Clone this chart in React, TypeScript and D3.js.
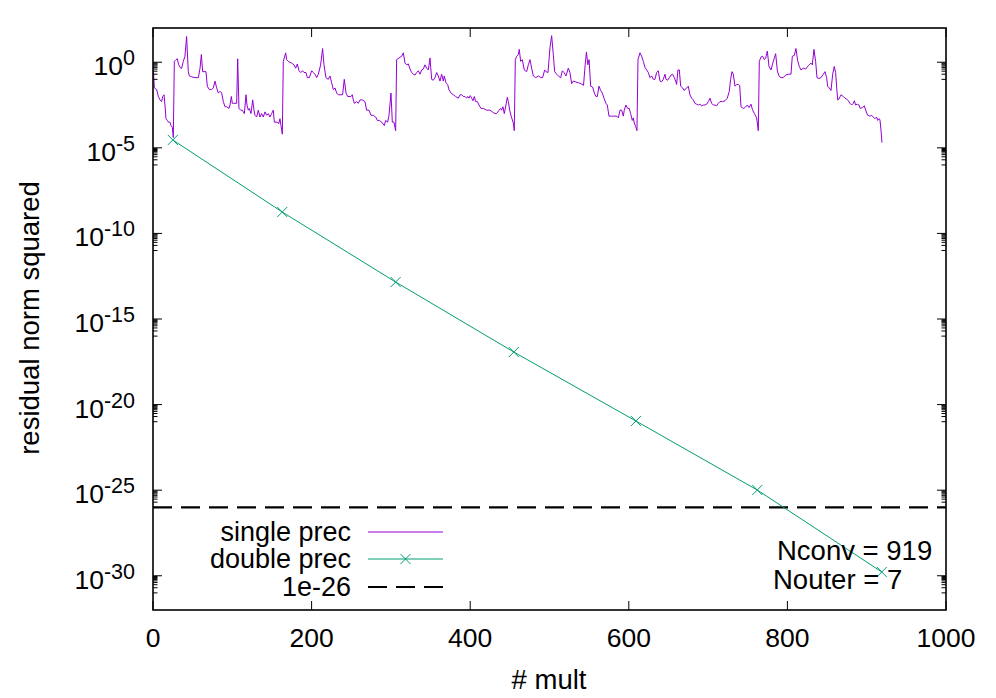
import React from "react";
import * as d3 from "d3";

// ---- data ----
const xTicks = [0, 200, 400, 600, 800, 1000];
const yTickExps = [0, -5, -10, -15, -20, -25, -30];
const thresholdValue = 1e-26;
const annotations = ["Nconv = 919", "Nouter = 7"];
const legendLabels = ["single prec", "double prec", "1e-26"];

// double precision outer iterations: # mult, log10(residual^2)
const doubleIter = [25, 163, 306, 455, 609, 762, 919];
const doubleLog10 = [-4.54, -8.75, -12.84, -16.93, -20.96, -24.99, -29.78];

// single precision inner residual: [# mult, log10(residual^2)]
const singlePrecPoints: [number, number][] = [
  [0,-0.05],[1.7,-1.5],[4.6,-1.6],[6.7,-2.0],[8.8,-2.2],[10.9,-2.3],[12.2,-2.0],[13.9,-1.9],[15.1,-2.5],[16.4,-3.3],[18.1,-3.4],[19.3,-3.5],[21.4,-3.5],[22.7,-3.7],[24.4,-3.8],[25.6,-4.4],
  [26.9,0.05],[29,0.15],[30.7,0.2],[32.4,-0.15],[34.9,-0.35],[36.2,-0.35],[38.2,0.05],[40.3,0.35],[42.4,1.5],[44.5,-0.55],[45.8,-0.8],[48.7,-0.85],[52.9,-0.9],[57.2,-0.9],[59.3,-0.35],[61,0.45],[62.6,-0.55],[64.3,-0.55],[66.8,-0.55],[68.5,-1.4],[71,-1.6],[74,-1.6],[76.1,-1.5],[78.2,-1.1],[80.3,-1.5],[82.4,-1.8],[84.5,-1.7],[86.6,-1.8],[88.7,-2.3],[90.8,-2.6],[92.9,-2.6],[95.8,-2.7],[97.1,-2.5],[98.8,-2.0],[100,-2.4],[101.3,-2.4],[103.4,-2.4],[105.5,-2.4],[106.8,0.2],[108.4,-2.7],[110.5,-2.8],[112.6,-2.8],[113.9,-2.9],[115.2,-3.0],[117.3,-1.9],[118.5,-2.5],[120.2,-2.8],[121.5,-2.7],[123.6,-3.0],[125.7,-2.2],[127.4,-2.8],[128.6,-3.1],[130.7,-3.2],[132.8,-2.8],[134.9,-3.2],[137,-3.0],[139.1,-3.2],[141.2,-2.9],[143.3,-3.1],[145.4,-3.0],[147.5,-3.2],[149.6,-3.0],[151.7,-2.8],[153,-3.5],[155.1,-3.5],[156.8,-3.5],[158.5,-3.6],[160.1,-3.3],[161.4,-3.7],[163.1,-4.2],
  [164.3,0.05],[167.3,0.55],[168.5,0.15],[170.6,0.05],[174.8,-0.05],[177.8,-0.15],[179.9,-0.35],[182,-0.1],[184.1,-0.5],[186.2,-0.6],[188.7,-0.5],[190.4,-0.6],[192.9,-0.6],[194.6,-0.9],[197.1,-0.9],[200.1,-0.5],[202.2,-0.6],[204.3,-0.7],[206.4,-0.9],[208.5,-0.7],[211.4,-0.15],[213.9,0.8],[215.6,-0.15],[218.1,-0.9],[221,-1.0],[223.2,-0.8],[225.3,-1.2],[227.4,-1.6],[229.5,-1.5],[231.6,-1.8],[233.7,-1.9],[235.8,-1.9],[239.1,-1.9],[241.2,-1.0],[243.4,-1.8],[245.5,-2.0],[249.7,-2.0],[251.3,-1.9],[252.6,-2.2],[253.9,-2.4],[256.8,-2.3],[258.9,-2.4],[261,-2.2],[264,-2.2],[267.3,-2.3],[269.4,-2.8],[272.4,-2.8],[274.9,-3.1],[277.8,-3.1],[280.8,-3.2],[282.9,-3.4],[285.4,-3.4],[288.3,-3.5],[291.7,-3.7],[293.4,-3.4],[295.9,-3.5],[297.6,-3.1],[300.1,-1.8],[301.8,-3.5],[303.9,-3.5],[306,-4.0],
  [307.2,0.15],[310.2,0.25],[313.6,0.35],[315.7,0.55],[317.8,-0.05],[319.9,-0.15],[322,-0.1],[324.1,-0.4],[326.2,-0.6],[328.3,-0.7],[330.4,-0.75],[332.5,-0.6],[334.6,-0.5],[336.7,-0.7],[338.8,-0.45],[340.9,-0.4],[343,-0.15],[345.1,-0.35],[347.2,-0.45],[349.3,0.25],[351.4,-1.0],[353.5,-1.05],[355.6,-0.9],[357.7,-0.6],[359.8,-0.8],[361.9,-1.1],[364,-0.7],[366.1,-1.1],[367.3,-0.8],[369.4,-1.2],[371.6,-1.3],[373.2,-1.6],[375.8,-1.8],[378.7,-1.9],[381.6,-2.0],[385,-2.1],[387.1,-1.9],[389.2,-1.9],[391.3,-2.0],[393.4,-2.0],[395.5,-2.1],[396.8,-2.0],[398.5,-2.1],[400.1,-1.95],[401.8,-2.1],[403.5,-2.25],[405.2,-2.0],[406.9,-2.3],[409,-2.3],[411.1,-2.5],[413.6,-2.7],[416.5,-2.7],[420.7,-2.8],[424.9,-2.8],[427.9,-2.9],[431.2,-3.0],[433.3,-3.0],[436.3,-2.8],[438.4,-2.7],[439.6,-2.8],[441.3,-2.6],[443,-3.0],[445.1,-2.5],[446.8,-2.05],[448.1,-2.3],[450.2,-2.9],[452.3,-3.25],[454.4,-3.55],[455.6,-4.0],
  [456.9,0.15],[458.6,0.35],[460.7,0.45],[461.9,0.75],[463.6,0.05],[465.7,0.15],[468.2,-0.45],[471.2,-0.55],[473.3,-0.15],[475.4,0.15],[477.5,-0.35],[479.6,-0.8],[482.5,-0.9],[485.9,-0.8],[489.2,-0.9],[491.4,-0.9],[493.9,-0.45],[495.6,-0.55],[498.1,-0.6],[500.6,0.85],[502.7,1.55],[504.8,0.45],[506.5,-0.55],[509,-0.7],[511.1,-0.8],[514.1,-0.9],[516.2,-0.5],[518.3,-0.6],[520.8,-0.8],[523.7,-0.35],[525.8,-0.6],[527.9,-1.25],[530,-1.1],[533,-1.15],[536.6,-1.2],[539.5,-1.25],[542.9,-1.35],[545,-0.15],[546.6,0.6],[548.3,-0.15],[549.9,0.15],[551.9,-1.4],[554.4,-1.45],[556.5,-1.8],[558.6,-2.0],[560.3,-2.0],[562.4,-1.4],[564.5,-1.65],[566.6,-1.8],[568.7,-2.1],[571.2,-2.4],[572.9,-2.5],[575,-3.15],[578.4,-3.15],[581.3,-3.15],[584.7,-3.15],[586.8,-3.25],[588.9,-2.8],[591,-2.8],[593.1,-3.15],[594.3,-2.8],[596.4,-2.5],[598.5,-2.7],[600.6,-2.7],[602.3,-3.0],[604.4,-3.4],[605.7,-3.25],[606.9,-3.55],[608.6,-3.75],[610.3,-4.0],
  [611.6,0.15],[614.1,0.55],[616.2,0.35],[618.3,0.05],[620.4,-0.3],[622.5,-0.45],[624.6,-0.6],[626.7,-0.9],[628.8,-0.8],[630.9,-1.0],[633,-1.0],[635.1,-0.6],[637.2,-0.5],[639.3,-1.1],[641.4,-1.15],[643.5,-1.0],[645.6,-0.7],[646.9,-1.0],[649,-1.05],[651.1,-0.9],[653.2,-0.75],[655.3,-0.7],[657.4,-0.9],[659.1,-1.1],[660.3,-1.3],[662,-0.45],[663.7,-0.45],[665.4,-1.4],[667.9,-1.5],[669.6,-1.65],[672.1,-1.55],[675,-1.4],[677.1,-1.9],[679.2,-2.1],[681.3,-2.2],[683.4,-2.4],[685.5,-2.45],[687.6,-2.5],[689.7,-2.45],[691.9,-2.55],[694,-2.5],[696,-2.5],[698.2,-2.45],[700.3,-2.3],[702.4,-2.1],[704.5,-2.4],[706.6,-2.5],[708.7,-2.5],[710.8,-2.55],[712.9,-2.4],[715,-2.3],[718.3,-2.3],[721.3,-2.25],[724.2,-2.1],[726.7,-1.7],[728.4,-1.0],[730.1,-0.55],[731.8,-0.7],[733.9,-1.4],[736,-1.3],[738.1,-1.3],[739.8,-1.35],[741.5,-2.6],[744.4,-2.7],[746.5,-2.65],[749.5,-2.5],[751.6,-2.65],[754.1,-2.45],[755.8,-2.75],[758.3,-3.0],[761.2,-3.25],[763.3,-4.0],
  [764.6,0.05],[766.7,0.3],[768.8,0.35],[770.9,0.15],[772.6,0.25],[774.7,0.65],[776.8,-0.25],[779.3,-0.45],[781,-0.15],[783.5,0.25],[785.2,0.5],[787.3,-0.5],[789.4,-0.8],[791.9,-0.9],[794.8,-0.9],[797.8,-0.75],[801.1,-0.7],[804.5,-0.7],[806.2,0.35],[808.7,0.4],[810.8,0.8],[812.9,0.1],[815,-0.25],[817.1,-0.45],[820.1,-0.35],[823,-0.4],[826.4,-0.2],[829.7,-0.05],[831.4,-0.15],[833.5,0.75],[835.6,0.05],[837.3,-0.9],[839.8,-0.95],[842.3,-0.9],[845.3,-0.7],[847.4,-0.55],[849.5,-0.9],[850.7,-1.4],[852.8,-1.5],[855,-1.65],[857.1,-0.7],[859.1,-0.25],[860.8,-0.6],[862.1,-1.45],[863.4,-2.2],[865,-2.15],[867.6,-1.9],[870.5,-2.0],[872.6,-2.1],[874.7,-2.15],[876.8,-2.25],[878.9,-2.4],[881,-2.5],[883.1,-2.4],[884.4,-2.25],[886,-2.5],[888.2,-2.45],[890.3,-2.5],[891.9,-2.7],[894.5,-2.65],[897,-2.55],[899.1,-2.85],[901.2,-3.1],[904.1,-3.15],[906.2,-3.1],[908.3,-3.2],[910.4,-3.3],[912.5,-3.2],[913.8,-3.4],[915.4,-3.3],[916.7,-3.35],[918,-3.95],[919.3,-4.7],
];

const W = 996;
const H = 698;
const M = { left: 153, right: 946, top: 28, bottom: 610 };
const FONT = "'Liberation Sans', Arial, Helvetica, sans-serif";
const FS_TICK = 26.5;
const FS_TEXT = 27.5;
const C_SINGLE = "#9400d3";
const C_DOUBLE = "#009e73";

export default function App() {
  const x = d3.scaleLinear().domain([0, 1000]).range([M.left, M.right]);
  const y = d3.scaleLog().domain([1e-32, 1e2]).range([M.bottom, M.top]);

  const singleLine = d3
    .line<[number, number]>()
    .x((d) => x(d[0]))
    .y((d) => y(Math.pow(10, d[1])));
  const doublePts = doubleIter.map((v, i) => [v, Math.pow(10, doubleLog10[i])] as [number, number]);
  const doubleLine = d3
    .line<[number, number]>()
    .x((d) => x(d[0]))
    .y((d) => y(d[1]));

  const majorLen = 9;
  const minorLen = 4.5;
  const minorVals: number[] = [];
  yTickExps.forEach((e) => {
    for (let m = 1; m <= 9; m++) {
      const v = Math.pow(10, e - 1) * m;
      if (v >= 1e-32 && v <= 1e2) minorVals.push(v);
    }
  });

  const cross = (cx: number, cy: number, r = 5) =>
    `M${cx - r},${cy - r}L${cx + r},${cy + r}M${cx - r},${cy + r}L${cx + r},${cy - r}`;

  const legendY = [532, 559, 587];
  const legendX0 = 368;
  const legendX1 = 443;

  return (
    <svg
      width={W}
      height={H}
      style={{ position: "fixed", left: 0, top: 0, background: "#fff" }}
      fontFamily={FONT}
    >
      <rect x={0} y={0} width={W} height={H} fill="#fff" />
      <defs>
        <clipPath id="plotClip">
          <rect x={M.left} y={M.top} width={M.right - M.left} height={M.bottom - M.top} />
        </clipPath>
      </defs>

      {/* y ticks */}
      {minorVals.map((v, i) => (
        <g key={"mn" + i} stroke="#000" strokeWidth={1}>
          <line x1={M.left} x2={M.left + minorLen} y1={y(v)} y2={y(v)} />
          <line x1={M.right} x2={M.right - minorLen} y1={y(v)} y2={y(v)} />
        </g>
      ))}
      {yTickExps.map((e) => {
        const yy = y(Math.pow(10, e));
        return (
          <g key={"yt" + e}>
            <line x1={M.left} x2={M.left + majorLen} y1={yy} y2={yy} stroke="#000" />
            <line x1={M.right} x2={M.right - majorLen} y1={yy} y2={yy} stroke="#000" />
            <text x={135} y={yy + 13} textAnchor="end" fontSize={FS_TICK} fill="#000">
              10
              <tspan dy={-10} fontSize={21.5}>
                {String(e)}
              </tspan>
            </text>
          </g>
        );
      })}

      {/* x ticks */}
      {xTicks.map((t) => (
        <g key={"xt" + t}>
          <line x1={x(t)} x2={x(t)} y1={M.bottom} y2={M.bottom - majorLen} stroke="#000" />
          <line x1={x(t)} x2={x(t)} y1={M.top} y2={M.top + majorLen} stroke="#000" />
          <text x={x(t)} y={647} textAnchor="middle" fontSize={FS_TICK} fill="#000">
            {t}
          </text>
        </g>
      ))}

      {/* axis labels */}
      <text x={549} y={689} textAnchor="middle" fontSize={FS_TEXT} fill="#000">
        # mult
      </text>
      <text
        transform={`translate(39,${318}) rotate(-90)`}
        textAnchor="middle"
        fontSize={FS_TEXT}
        fill="#000"
      >
        residual norm squared
      </text>

      <g clipPath="url(#plotClip)">
        <path d={singleLine(singlePrecPoints) || ""} fill="none" stroke={C_SINGLE} strokeWidth={1} />
        <line
          x1={M.left}
          x2={M.right}
          y1={y(thresholdValue)}
          y2={y(thresholdValue)}
          stroke="#000"
          strokeWidth={2.2}
          strokeDasharray="19,9"
        />
        <path d={doubleLine(doublePts) || ""} fill="none" stroke={C_DOUBLE} strokeWidth={1} />
        {doublePts.map((d, i) => (
          <path key={"dp" + i} d={cross(x(d[0]), y(d[1]))} stroke={C_DOUBLE} strokeWidth={1} fill="none" />
        ))}
      </g>

      {/* legend */}
      {legendLabels.map((lab, i) => (
        <text key={"lg" + i} x={351} y={legendY[i] + 9} textAnchor="end" fontSize={27} fill="#000">
          {lab}
        </text>
      ))}
      <line x1={legendX0} x2={legendX1} y1={legendY[0]} y2={legendY[0]} stroke={C_SINGLE} strokeWidth={1} />
      <line x1={legendX0} x2={legendX1} y1={legendY[1]} y2={legendY[1]} stroke={C_DOUBLE} strokeWidth={1} />
      <path d={cross((legendX0 + legendX1) / 2, legendY[1])} stroke={C_DOUBLE} strokeWidth={1} fill="none" />
      <line
        x1={legendX0}
        x2={legendX1}
        y1={legendY[2]}
        y2={legendY[2]}
        stroke="#000"
        strokeWidth={2.2}
        strokeDasharray="19,9"
      />

      {/* annotations */}
      <text x={777} y={560} fontSize={FS_TEXT} fill="#000">
        {annotations[0]}
      </text>
      <text x={773} y={589} fontSize={FS_TEXT} fill="#000">
        {annotations[1]}
      </text>

      {/* border */}
      <rect
        x={M.left}
        y={M.top}
        width={M.right - M.left}
        height={M.bottom - M.top}
        fill="none"
        stroke="#000"
        strokeWidth={1.6}
      />
    </svg>
  );
}
